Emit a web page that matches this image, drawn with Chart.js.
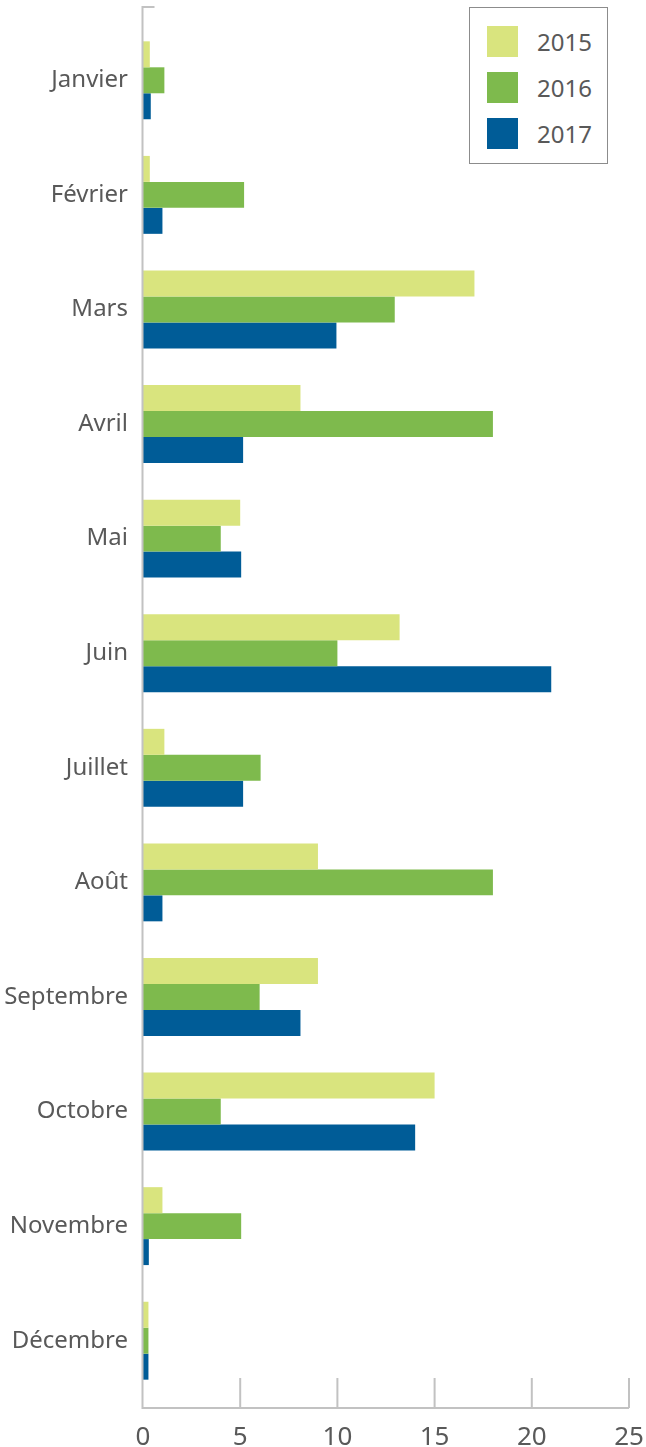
<!DOCTYPE html>
<html lang="fr">
<head>
<meta charset="utf-8" />
<title>Mois 2015-2017</title>
<script src="https://cdn.jsdelivr.net/npm/chart.js@4.4"></script>
<style>
  html,body{margin:0;padding:0;background:#fff;}
  #wrap{position:relative;width:646px;height:1447px;}
  #legend{position:absolute;left:469px;top:7px;width:137px;height:155px;border:1.5px solid #8c8c8c;background:#fff;
    font-family:'Noto Sans',Arial,sans-serif;font-size:24px;color:#595959;}
  #legend .row{position:absolute;left:17px;display:flex;align-items:center;gap:19px;height:31px;}
  #legend .sw{width:31px;height:31px;}
</style>
</head>
<body>
<div id="wrap">
  <canvas id="c"></canvas>
  <div id="legend"></div>
</div>
<script>
/* ---- data ---- */
const months=['Janvier','Février','Mars','Avril','Mai','Juin','Juillet','Août','Septembre','Octobre','Novembre','Décembre'];
const years=['2015','2016','2017'];
const v2015=[0.35,0.35,17.05,8.1,5.0,13.2,1.1,9.0,9.0,15.0,1.0,0.28];
const v2016=[1.1,5.2,12.95,18.0,4.0,10.0,6.05,18.0,6.0,4.0,5.05,0.28];
const v2017=[0.4,1.0,9.95,5.15,5.05,21.0,5.15,1.0,8.1,14.0,0.3,0.28];
const xTicks=[0,5,10,15,20,25];

const colors=['#d9e47e','#7eba4d','#005c97'];
const AXIS='#c2c2c2';
const FONT="'Noto Sans',Arial,sans-serif";

// axis lines drawn by hand: they stick out past the category bands
const axisPlugin={
  id:'axisLines',
  afterDraw(chart){
    const {ctx,chartArea:a,scales:{x}}=chart;
    const top=a.top-16, bot=a.bottom+10, left=a.left-0.5;
    ctx.save();
    ctx.strokeStyle=AXIS;ctx.lineWidth=2;
    ctx.beginPath();
    ctx.moveTo(left+12,top);ctx.lineTo(left,top);ctx.lineTo(left,bot);
    ctx.lineTo(x.getPixelForValue(xTicks[xTicks.length-1]),bot);
    xTicks.forEach(v=>{
      if(v===0)return;
      const px=x.getPixelForValue(v);
      ctx.moveTo(px,bot);ctx.lineTo(px,bot-30);
    });
    ctx.stroke();
    ctx.restore();
  }
};

new Chart(document.getElementById('c'),{
  type:'bar',
  data:{
    labels:months,
    datasets:[v2015,v2016,v2017].map((d,i)=>({label:years[i],data:d,backgroundColor:colors[i],borderWidth:0,
      categoryPercentage:0.68,barPercentage:1}))
  },
  options:{
    indexAxis:'y',responsive:true,maintainAspectRatio:false,animation:false,
    layout:{padding:{top:23,right:17,left:0,bottom:0}},
    plugins:{legend:{display:false},tooltip:{enabled:false}},
    scales:{
      x:{min:0,max:25,afterBuildTicks(s){s.ticks=xTicks.map(v=>({value:v}));},
        afterFit(s){s.height=49;s.paddingLeft=0;s.paddingRight=0;},
        grid:{display:false,drawTicks:false},border:{display:false},
        ticks:{padding:24,color:'#595959',font:{family:FONT,size:26}}},
      y:{afterFit(s){s.width=143;s.paddingTop=0;s.paddingBottom=0;},
        grid:{display:false,drawTicks:false},border:{display:false},
        ticks:{padding:15,color:'#595959',font:{family:FONT,size:24}}}
    }
  },
  plugins:[axisPlugin]
});

// legend box
const lg=document.getElementById('legend');
years.forEach((y,i)=>{
  const r=document.createElement('div');r.className='row';r.style.top=(18+i*46)+'px';
  r.innerHTML='<div class="sw" style="background:'+colors[i]+'"></div><span>'+y+'</span>';
  lg.appendChild(r);
});
</script>
</body>
</html>
